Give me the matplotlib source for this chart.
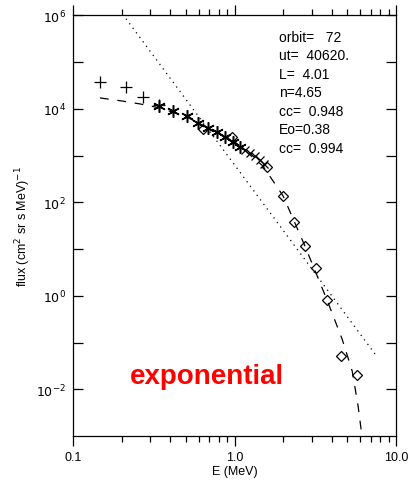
import numpy as np
import matplotlib
matplotlib.use('Agg')
import matplotlib.pyplot as plt
from matplotlib.ticker import FixedLocator, NullFormatter

plt.rcParams['font.family'] = ['Liberation Sans', 'DejaVu Sans']

# data
plus_e = [0.147, 0.213, 0.271, 0.341]
plus_f = [3.79e4, 2.96e4, 1.81e4, 1.22e4]

star_e = [0.341, 0.416, 0.508, 0.594, 0.686, 0.780, 0.874, 0.979, 1.082]
star_f = [1.16e4, 9.06e3, 7.08e3, 5.0e3, 3.92e3, 3.21e3, 2.51e3, 1.96e3, 1.53e3]

cross_e = [1.16, 1.25, 1.34, 1.44, 1.52]
cross_f = [1.32e3, 1.14e3, 985, 810, 665]

diam_e = [0.638, 0.966, 1.59, 2.0, 2.33, 2.73, 3.20, 3.74, 4.56, 5.73]
diam_f = [3.73e3, 2.51e3, 573, 137, 38, 11.6, 3.94, 0.81, 0.051, 0.020]

# exponential fit (dashed)
exp_e = [0.147, 0.201, 0.260, 0.346, 0.508, 0.705, 1.007, 1.50, 2.0, 2.73, 3.74, 4.63, 5.35, 5.82, 6.15]
exp_f = [1.72e4, 1.48e4, 1.28e4, 1.05e4, 6.7e3, 3.7e3, 1.96e3, 600, 137, 11.6, 0.81, 0.12, 0.0246, 4.4e-3, 1.0e-3]

# power law fit (dotted)
pow_e = [0.213, 7.41]
pow_f = [8.5e5, 0.0568]

info_lines = ['orbit=   72', 'ut=  40620.', 'L=  4.01', 'n=4.65', 'cc=  0.948', 'Eo=0.38', 'cc=  0.994']

fig = plt.figure(figsize=(4.1, 4.85), dpi=100)
ax = fig.add_axes([0.178, 0.099, 0.788, 0.867])

ax.set_xscale('log')
ax.set_yscale('log')
ax.set_xlim(0.1, 10.0)
ax.set_ylim(1e-3, 1e6)

ax.plot(exp_e, exp_f, color='black', lw=0.9, linestyle=(0, (7, 7)))
ax.plot(pow_e, pow_f, color='black', lw=0.9, linestyle=(0, (1, 3.5)))

ax.plot(plus_e, plus_f, ls='none', marker='+', ms=9, mew=0.9, color='black')
ax.plot(star_e, star_f, ls='none', marker=(6, 2, 0), ms=9, mew=1.1, color='black')
ax.plot(cross_e, cross_f, ls='none', marker='x', ms=6, mew=0.9, color='black')
ax.plot(diam_e, diam_f, ls='none', marker='D', ms=5.5, mew=0.9, mfc='none', mec='black')

# ticks
ax.xaxis.set_major_locator(FixedLocator([0.1, 1.0, 10.0]))
ax.set_xticklabels(['0.1', '1.0', '10.0'])
minor_x = [m * d for d in (0.1, 1.0) for m in range(2, 10)]
ax.xaxis.set_minor_locator(FixedLocator(minor_x))
ax.xaxis.set_minor_formatter(NullFormatter())

ax.yaxis.set_major_locator(FixedLocator([1e-2, 1e0, 1e2, 1e4, 1e6]))
ax.set_yticklabels(['$10^{-2}$', '$10^{0}$', '$10^{2}$', '$10^{4}$', '$10^{6}$'])
ax.yaxis.set_minor_locator(FixedLocator([1e-1, 1e1, 1e3, 1e5]))
ax.yaxis.set_minor_formatter(NullFormatter())

ax.tick_params(axis='x', which='major', direction='out', length=7, width=0.9,
               top=True, labelsize=9, pad=4)
ax.tick_params(axis='x', which='minor', direction='out', length=4, width=0.9, top=True)
ax.tick_params(axis='y', which='major', direction='in', length=7, width=0.9,
               right=True, labelsize=9, pad=5)
ax.tick_params(axis='y', which='minor', direction='in', length=7, width=0.9, right=True)

for s in ax.spines.values():
    s.set_linewidth(0.9)

ax.set_xlabel('E (MeV)', fontsize=9, labelpad=1)
ax.set_ylabel('flux (cm$^2$ sr s MeV)$^{-1}$', fontsize=9, labelpad=2)

for i, line in enumerate(info_lines):
    ax.text(0.638, 0.949 - i * 0.044, line, transform=ax.transAxes,
            fontsize=10, ha='left', va='center')

ax.text(0.415, 0.143, 'exponential', transform=ax.transAxes, color='#ff0000',
        fontsize=20, fontweight='bold', ha='center', va='center')

fig.savefig('out.png', dpi=100)
